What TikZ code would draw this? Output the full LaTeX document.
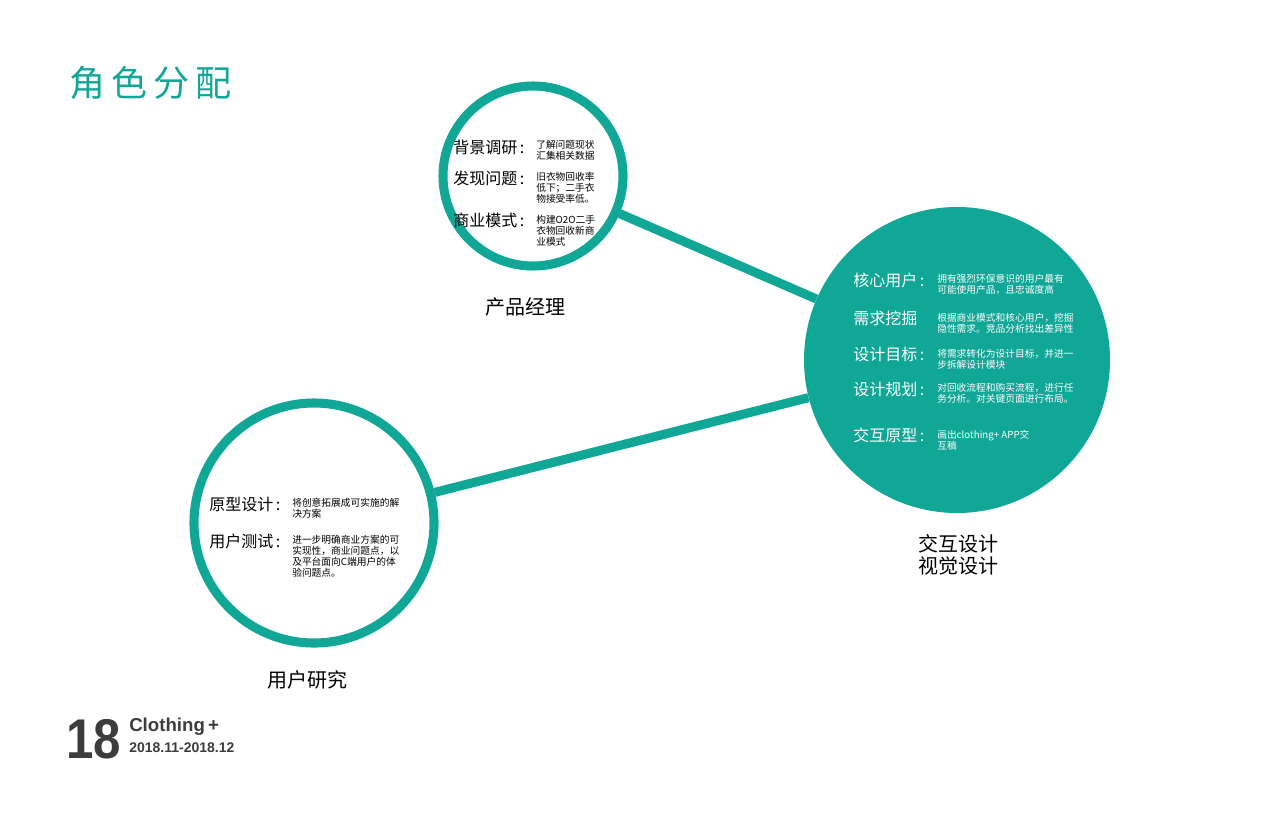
\documentclass[tikz,border=0pt]{standalone}
\usepackage{fontspec}
\setmainfont{Noto Sans CJK SC}
\newfontfamily\cjk{Noto Sans CJK SC}
\newfontfamily\numf{Liberation Sans}
\definecolor{teal1}{HTML}{11A797}
\definecolor{dgray}{HTML}{3C3C3C}
\begin{document}
\begin{tikzpicture}[x=0.75pt,y=-0.75pt,
  ring/.style={circle,draw=teal1,line width=6.8pt,inner sep=0pt},
  lab/.style={anchor=west,font=\fontsize{12}{14}\selectfont,inner sep=0pt},
  small/.style={anchor=north west,font=\fontsize{7.3}{8.3}\selectfont,inner sep=0pt,align=left},
  role/.style={font=\fontsize{15}{18}\selectfont,align=center,inner sep=0pt},
  link/.style={teal1,line width=6.8pt}]
\useasboundingbox (0,0) rectangle (1280,817);
\fill[white] (0,0) rectangle (1280,817);
\node[circle,fill=teal1,minimum size=306*0.75pt,inner sep=0pt] (ux) at (957,360) {};
\node[ring,minimum size=180*0.75pt] (pm) at (533,176) {};
\node[ring,minimum size=240*0.75pt] (ur) at (314,523) {};
\draw[link] (pm) -- (ux);
\draw[link] (ur) -- (ux);
\node[anchor=west,teal1,font=\fontsize{27}{30}\selectfont,inner sep=0pt] (title) at (69,83) {角\hspace{4.5pt}色\hspace{4.5pt}分\hspace{4.5pt}配};
% top circle
\node[lab] (a1) at (453,147) {背景调研\,:};
\node[small] (a1t) at (536,140) {了解问题现状\\汇集相关数据};
\node[lab] (a2) at (453,178) {发现问题\,:};
\node[small] (a2t) at (536,172) {旧衣物回收率\\低下；二手衣\\物接受率低。};
\node[lab] (a3) at (453,220) {商业模式\,:};
\node[small] (a3t) at (536,215) {构建O2O二手\\衣物回收新商\\业模式};
\node[role] (pml) at (525,307) {产品经理};
% right circle
\node[lab,white] (b1) at (853,280) {核心用户\,:};
\node[small,white] (b1t) at (937,274) {拥有强烈环保意识的用户最有\\可能使用产品，且忠诚度高};
\node[lab,white] (b2) at (853,318) {需求挖掘};
\node[small,white] (b2t) at (937,313) {根据商业模式和核心用户，挖掘\\隐性需求。竞品分析找出差异性};
\node[lab,white] (b3) at (853,354) {设计目标\,:};
\node[small,white] (b3t) at (937,349) {将需求转化为设计目标，并进一\\步拆解设计模块};
\node[lab,white] (b4) at (853,389) {设计规划\,:};
\node[small,white] (b4t) at (937,383) {对回收流程和购买流程，进行任\\务分析。对关键页面进行布局。};
\node[lab,white] (b5) at (853,435) {交互原型\,:};
\node[small,white] (b5t) at (937,430) {画出clothing+ APP交\\互稿};
\node[role] (uxl) at (958,555) {交互设计\\[-2pt]视觉设计};
% left circle
\node[lab] (c1) at (209,504) {原型设计\,:};
\node[small] (c1t) at (292,498) {将创意拓展成可实施的解\\决方案};
\node[lab] (c2) at (209,541) {用户测试\,:};
\node[small] (c2t) at (292,535) {进一步明确商业方案的可\\实现性，商业问题点，以\\及平台面向C端用户的体\\验问题点。};
\node[role] (url) at (307,680) {用户研究};
% footer
\node[anchor=west,dgray,font=\numf\bfseries\fontsize{42}{42}\selectfont,inner sep=0pt,xscale=0.88] (num) at (66,739) {18};
\node[anchor=west,dgray,font=\numf\bfseries\fontsize{14}{14}\selectfont,inner sep=0pt] (brand) at (129,727) {Clothing\,+};
\node[anchor=west,dgray,font=\numf\bfseries\fontsize{10.5}{11}\selectfont,inner sep=0pt] (date) at (129,748) {2018.11-2018.12};
\end{tikzpicture}
\end{document}
